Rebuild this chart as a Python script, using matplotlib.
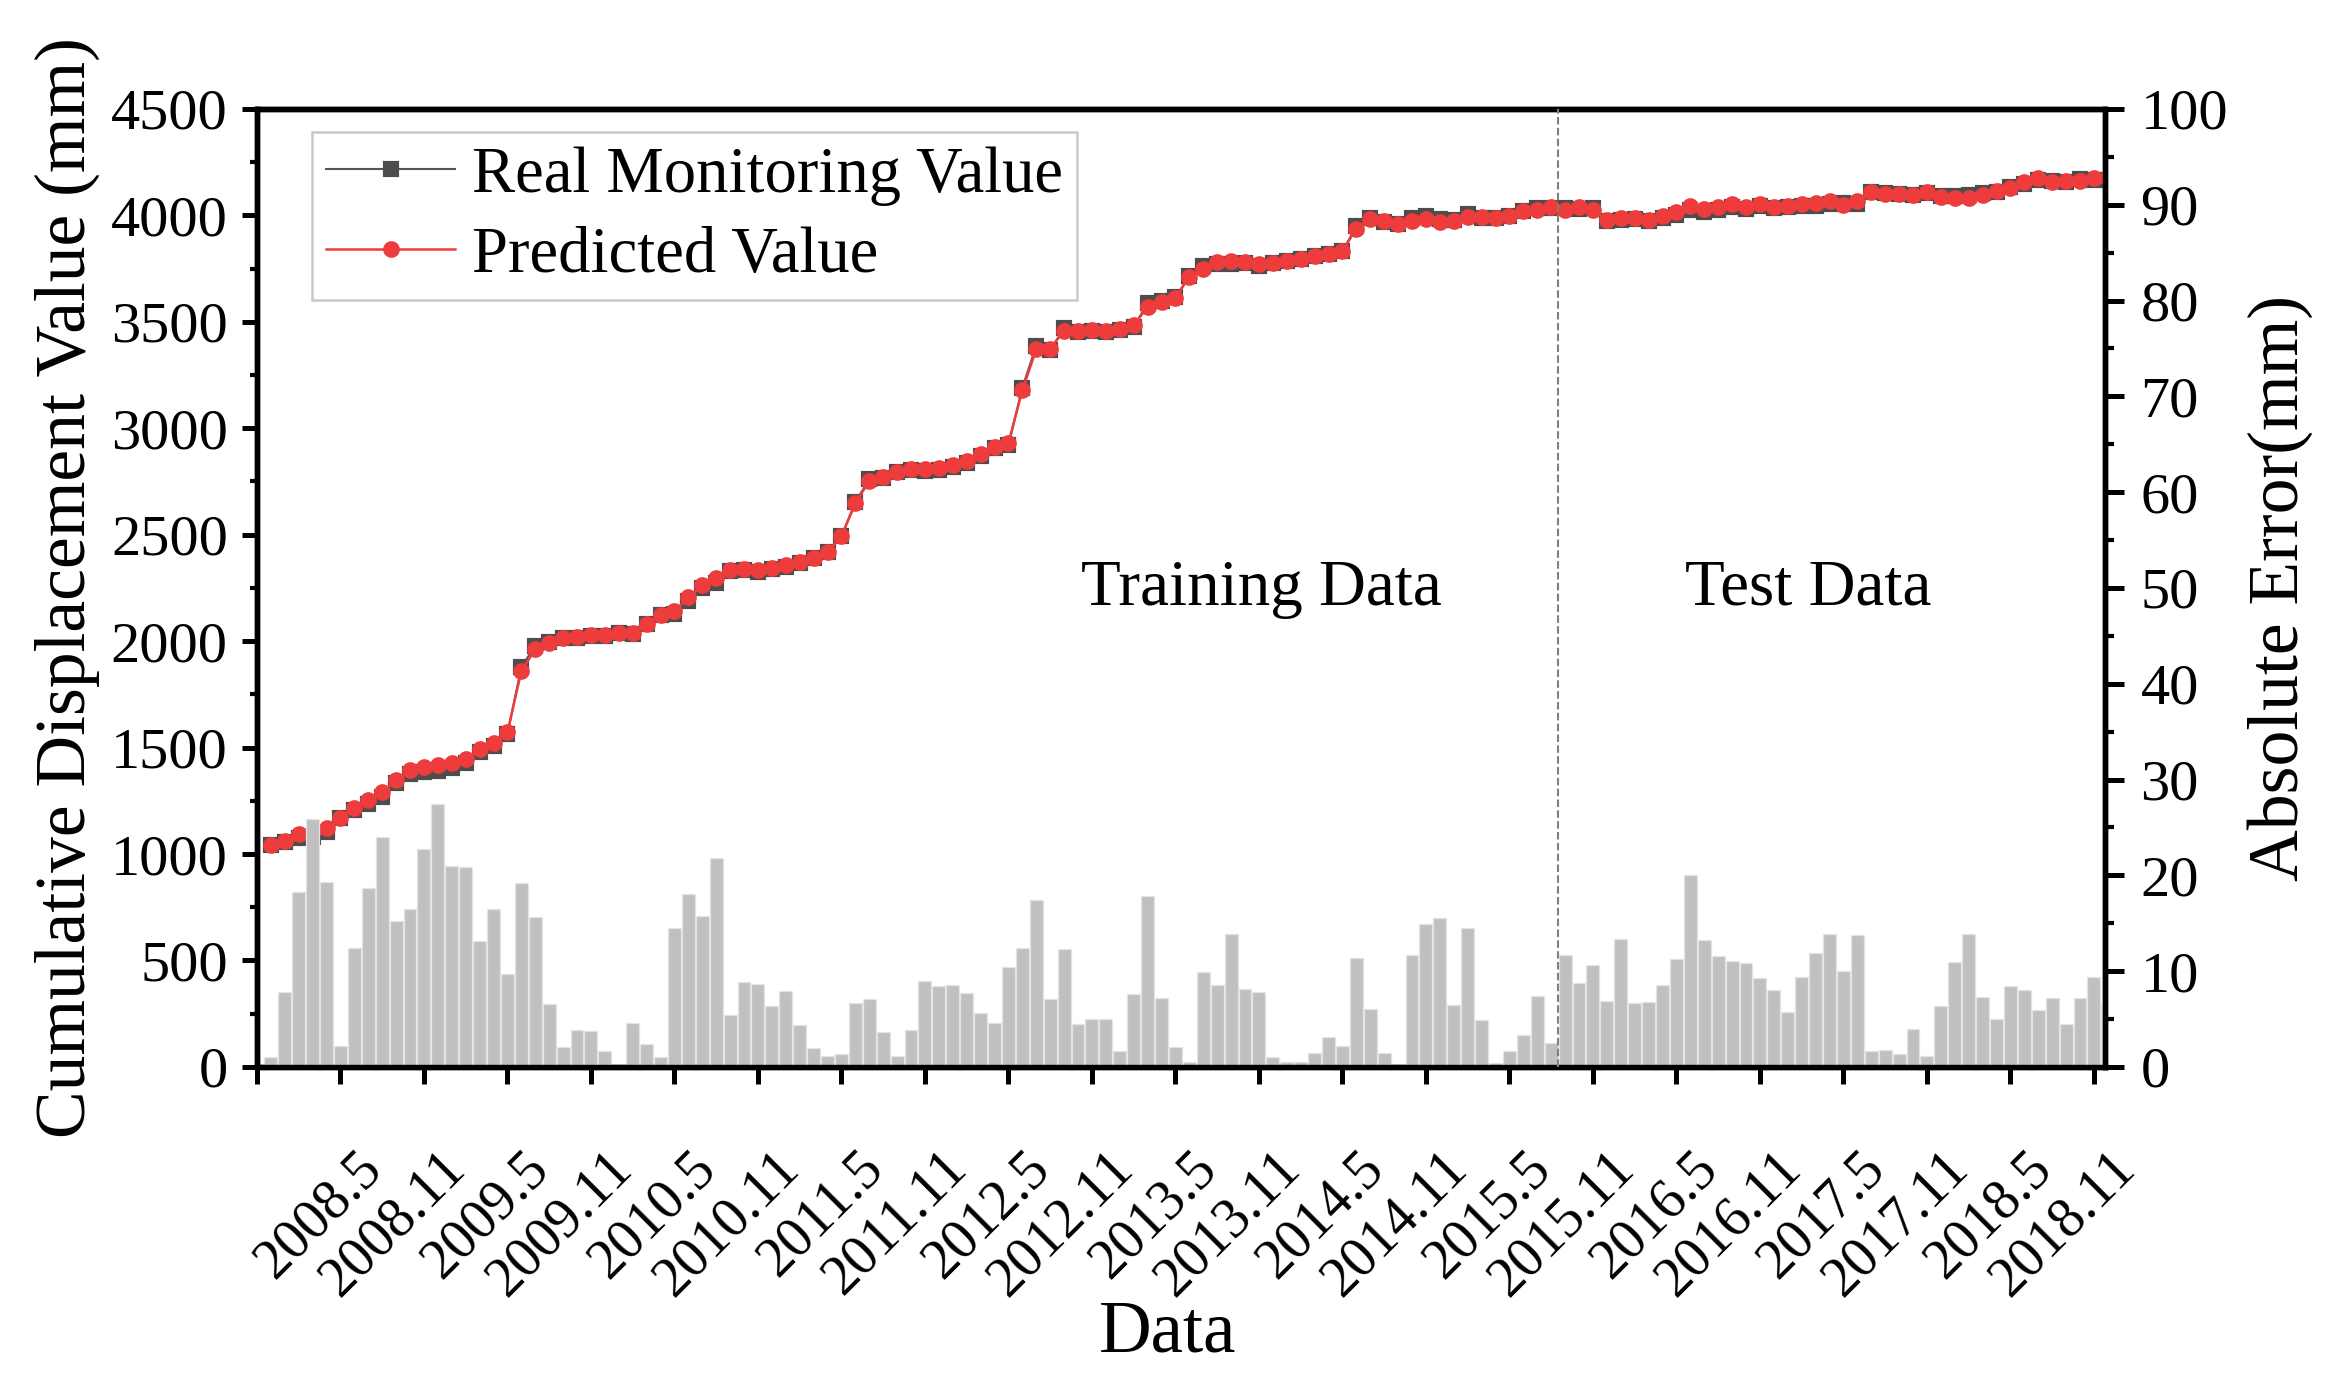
import numpy as np
import matplotlib

matplotlib.use("Agg")
import matplotlib.pyplot as plt
import matplotlib.transforms as mtransforms
from matplotlib.lines import Line2D
from matplotlib.ticker import MultipleLocator

plt.rcParams["font.family"] = ["Liberation Serif", "DejaVu Serif"]

# monthly series, 2007.12 .. 2018.12
real = [1042, 1055, 1076, 1082, 1102, 1169, 1206, 1234, 1266, 1333,
        1377, 1385, 1391, 1405, 1427, 1479, 1507, 1562, 1879, 1978,
        1997, 2013, 2016, 2024, 2026, 2037, 2034, 2080, 2123, 2126,
        2188, 2249, 2273, 2329, 2332, 2327, 2337, 2348, 2367, 2389,
        2418, 2492, 2654, 2760, 2767, 2794, 2803, 2798, 2806, 2818,
        2838, 2871, 2907, 2920, 3191, 3388, 3366, 3471, 3452, 3457,
        3452, 3463, 3476, 3588, 3599, 3616, 3713, 3760, 3772, 3772,
        3775, 3764, 3777, 3786, 3797, 3809, 3817, 3831, 3949, 3989,
        3970, 3961, 3987, 3998, 3985, 3979, 4006, 3986, 3989, 3995,
        4022, 4034, 4036, 4036, 4032, 4035, 3973, 3976, 3982, 3973,
        3988, 4003, 4026, 4017, 4027, 4041, 4030, 4043, 4033, 4040,
        4046, 4046, 4052, 4059, 4055, 4110, 4104, 4101, 4098, 4107,
        4091, 4091, 4096, 4104, 4111, 4135, 4147, 4168, 4162, 4158,
        4170, 4168, 4167]

predicted = [1043, 1063, 1094, 1108, 1121, 1171, 1218, 1253, 1290, 1348,
             1393, 1408, 1418, 1426, 1448, 1492, 1523, 1572, 1860, 1962,
             1990, 2015, 2020, 2028, 2028, 2037, 2039, 2082, 2124, 2141,
             2206, 2265, 2295, 2334, 2341, 2336, 2343, 2356, 2371, 2391,
             2419, 2493, 2647, 2753, 2771, 2795, 2807, 2807, 2814, 2827,
             2846, 2877, 2912, 2930, 3179, 3371, 3373, 3459, 3457, 3462,
             3457, 3465, 3484, 3570, 3592, 3614, 3712, 3750, 3781, 3786,
             3783, 3772, 3778, 3786, 3797, 3811, 3820, 3833, 3938, 3983,
             3972, 3961, 3975, 3983, 3969, 3972, 3991, 3991, 3989, 3997,
             4019, 4027, 4039, 4024, 4041, 4024, 3980, 3989, 3989, 3980,
             3997, 4014, 4046, 4030, 4039, 4052, 4041, 4052, 4041, 4046,
             4055, 4058, 4066, 4049, 4069, 4108, 4102, 4102, 4094, 4108,
             4085, 4080, 4082, 4097, 4116, 4127, 4155, 4174, 4155, 4163,
             4163, 4177, 4174]

abs_error = [1.0, 7.8, 18.3, 25.9, 19.3, 2.2, 12.4, 18.7, 24.0, 15.2,
             16.5, 22.8, 27.4, 21.0, 20.9, 13.1, 16.5, 9.7, 19.2, 15.7,
             6.6, 2.1, 3.9, 3.8, 1.7, 0.2, 4.6, 2.4, 1.0, 14.5,
             18.1, 15.8, 21.8, 5.4, 8.9, 8.7, 6.4, 7.9, 4.4, 2.0,
             1.1, 1.3, 6.7, 7.1, 3.6, 1.1, 3.9, 9.0, 8.4, 8.6,
             7.7, 5.6, 4.6, 10.4, 12.4, 17.4, 7.1, 12.3, 4.5, 5.0,
             5.0, 1.7, 7.6, 17.8, 7.2, 2.1, 0.55, 9.9, 8.6, 13.9,
             8.1, 7.8, 1.0, 0.5, 0.5, 1.5, 3.1, 2.2, 11.4, 6.1,
             1.5, 0.0, 11.7, 14.9, 15.5, 6.5, 14.5, 4.9, 0.4, 1.7,
             3.3, 7.4, 2.5, 11.7, 8.8, 10.6, 6.9, 13.4, 6.7, 6.8,
             8.6, 11.3, 20.0, 13.2, 11.6, 11.1, 10.8, 9.3, 8.0, 5.7,
             9.4, 11.9, 13.9, 10.0, 13.8, 1.7, 1.8, 1.3, 4.0, 1.1,
             6.4, 11.0, 13.9, 7.3, 5.0, 8.4, 8.0, 5.9, 7.2, 4.5,
             7.2, 9.4, 6.7]

tick_labels = ["", "2008.5", "2008.11", "2009.5", "2009.11", "2010.5", "2010.11",
               "2011.5", "2011.11", "2012.5", "2012.11", "2013.5", "2013.11",
               "2014.5", "2014.11", "2015.5", "2015.11", "2016.5", "2016.11",
               "2017.5", "2017.11", "2018.5", "2018.11"]

split_at = 93.5  # train/test boundary (month index)

RED = "#EE3B3B"
GRAY = "#4d4d4d"
BAR = "#c0c0c0"

months = np.arange(1, len(real) + 1)

fig = plt.figure(figsize=(7.8, 4.62), dpi=300)
ax1 = fig.add_axes([0.1098, 0.2302, 0.7898, 0.6912])
ax2 = ax1.twinx()

ax1.plot(months, real, color="#555555", lw=0.5, marker="s", ms=2.7,
         mfc=GRAY, mec=GRAY, zorder=2)
ax1.plot(months, predicted, color=RED, lw=0.6, marker="o", ms=3.0,
         mfc=RED, mec=RED, zorder=3)

ax2.bar(months, abs_error, width=0.93, color=BAR, edgecolor="#e4e4e4", lw=0.3)
ax2.axvline(split_at, color="#808080", lw=0.5, ls=(0, (3.6, 1.6)), zorder=5)

ax1.set_xlim(0, 132.8)
ax1.set_ylim(0, 4500)
ax2.set_ylim(0, 100)

ax1.set_xticks(np.arange(0, 133, 6))
ax1.set_xticklabels(tick_labels)
ax1.yaxis.set_major_locator(MultipleLocator(500))
ax1.yaxis.set_minor_locator(MultipleLocator(250))
ax2.yaxis.set_major_locator(MultipleLocator(10))
ax2.yaxis.set_minor_locator(MultipleLocator(5))

for ax in (ax1, ax2):
    for sp in ax.spines.values():
        sp.set_linewidth(1.3)

ax1.tick_params(axis="y", which="major", direction="out", length=3.6, width=1.2,
                labelsize=14, pad=3.4)
ax1.tick_params(axis="y", which="minor", direction="out", length=1.8, width=1.0)
ax1.tick_params(axis="x", which="major", direction="out", length=4.1, width=1.2,
                labelsize=13.5, pad=13.8)
ax2.tick_params(axis="y", which="major", direction="out", length=4.5, width=1.2,
                labelsize=14, pad=4.0)
ax2.tick_params(axis="y", which="minor", direction="out", length=2.2, width=1.0)

offset = mtransforms.ScaledTranslation(0.05, 0, fig.dpi_scale_trans)
for lab in ax1.get_xticklabels():
    lab.set_rotation(45)
    lab.set_ha("right")
    lab.set_va("top")
    lab.set_rotation_mode("anchor")
    lab.set_transform(lab.get_transform() + offset)

ax1.set_ylabel("Cumulative Displacement Value (mm)", fontsize=17.2)
ax1.yaxis.set_label_coords(-0.085, 0.5)
ax2.set_ylabel("Absolute Error(mm)", fontsize=17.2)
ax2.yaxis.set_label_coords(1.077, 0.5)
ax1.set_xlabel("Data", fontsize=17.5)
ax1.xaxis.set_label_coords(0.493, -0.243)

ax1.text(72.2, 2170, "Training Data", fontsize=15.6, ha="center", va="baseline")
ax1.text(111.5, 2170, "Test Data", fontsize=15.6, ha="center", va="baseline")

handles = [
    Line2D([], [], color="#555555", lw=0.5, marker="s", ms=2.7, mfc=GRAY, mec=GRAY),
    Line2D([], [], color=RED, lw=0.6, marker="o", ms=3.0, mfc=RED, mec=RED),
]
leg = ax1.legend(handles, ["Real Monitoring Value", "Predicted Value"],
                 loc="upper left", bbox_to_anchor=(0.0298, 0.976), borderaxespad=0,
                 fontsize=15.5, fancybox=False, framealpha=1, edgecolor="#c8c8c8",
                 handlelength=2.0, handletextpad=0.25, borderpad=0.22,
                 labelspacing=0.32, numpoints=1)
leg.get_frame().set_linewidth(0.6)

fig.savefig("out.png", dpi=300)
